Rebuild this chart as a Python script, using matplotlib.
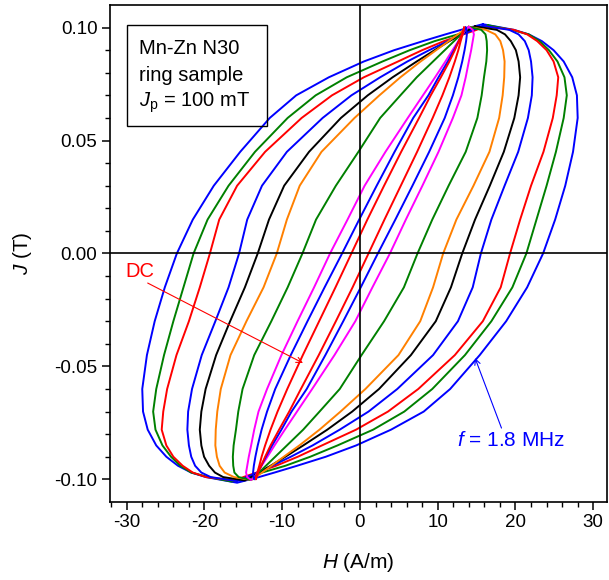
import matplotlib
matplotlib.use("Agg")
import matplotlib.pyplot as plt
from matplotlib.patches import Rectangle
from matplotlib.ticker import MultipleLocator
import numpy as np

plt.rcParams['font.family'] = ['Liberation Sans', 'DejaVu Sans']
plt.rcParams['mathtext.fontset'] = 'custom'
plt.rcParams['mathtext.rm'] = 'Liberation Sans'
plt.rcParams['mathtext.it'] = 'Liberation Sans:italic'
plt.rcParams['axes.unicode_minus'] = False

# J levels (T) between the tips at which the descending branch is read
j_levels = [0.099, 0.097, 0.094, 0.090, 0.085, 0.078, 0.070, 0.060, 0.045, 0.030,
            0.015, 0.000, -0.015, -0.030, -0.045, -0.060, -0.070, -0.078, -0.085,
            -0.090, -0.094, -0.097, -0.099]

# H (A/m) of the descending branch: top tip, the levels above, bottom tip
# outer loop (f = 1.8 MHz) first, DC loop last
h_blue_1 = [15.8, 13.0, 11.0, 8.1, 4.4, 0.5, -4.0, -8.2, -11.6, -15.4, -18.8, -21.5,
            -23.55, -25.1, -26.4, -27.4, -28.0, -27.9, -27.3, -26.2, -24.9, -23.4,
            -21.7, -19.8, -15.8]
h_green_2 = [16.5, 14.6, 12.6, 9.6, 6.4, 2.9, -1.7, -5.7, -9.3, -13.5, -16.9, -19.6,
             -21.4, -22.7, -24.0, -25.2, -26.2, -26.6, -26.3, -25.4, -24.3, -23.1,
             -21.7, -19.5, -16.5]
h_red_3 = [16.0, 15.0, 13.3, 10.8, 8.0, 4.9, 0.5, -3.6, -7.5, -12.2, -15.8, -18.1,
           -19.3, -20.6, -22.0, -23.6, -24.8, -25.3, -25.5, -24.9, -24.0, -22.8,
           -21.5, -19.8, -16.0]
h_blue_4 = [15.8, 14.6, 13.2, 11.3, 8.9, 6.1, 2.6, -1.1, -4.8, -9.4, -12.6, -14.5,
            -15.55, -16.9, -18.6, -20.35, -21.6, -22.1, -22.2, -22.0, -21.7, -21.2,
            -20.4, -19.2, -15.8]
h_black_5 = [14.8, 14.0, 13.0, 11.5, 9.6, 7.3, 4.2, 1.0, -2.45, -6.55, -9.75, -11.7,
             -13.15, -14.8, -16.7, -18.5, -19.85, -20.4, -20.6, -20.4, -20.05, -19.4,
             -18.65, -17.6, -14.8]
h_orange_6 = [14.0, 13.4, 12.6, 11.4, 9.8, 7.8, 5.2, 2.5, -0.7, -4.95, -7.75, -9.4,
              -10.7, -12.4, -14.6, -16.65, -17.9, -18.35, -18.55, -18.6, -18.4, -18.05,
              -17.4, -16.2, -14.0]
h_green_7 = [14.0, 13.6, 13.0, 12.1, 10.9, 9.4, 7.3, 5.2, 2.6, -0.2, -3.1, -5.65,
             -7.4, -9.3, -11.4, -13.6, -15.1, -15.65, -15.95, -16.25, -16.35, -16.3,
             -16.15, -15.6, -14.0]
h_magenta_8 = [14.0, 13.56, 13.2, 12.65, 11.9, 10.99, 9.66, 8.1, 6.15, 3.28, 0.6, -1.6,
               -3.85, -5.9, -8.03, -10.1, -11.95, -13.05, -13.6, -14.0, -14.3, -14.5,
               -14.65, -14.5, -14.0]
h_blue_9 = [13.6, 13.45, 13.15, 12.7, 12.1, 11.3, 10.1, 8.8, 6.85, 4.45, 2.15, -0.1,
            -2.3, -4.55, -6.75, -8.9, -10.9, -11.95, -12.65, -13.15, -13.45, -13.65,
            -13.75, -13.7, -13.6]
h_red_dc = [13.4, 13.3, 13.1, 12.7, 12.2, 11.5, 10.4, 9.1, 7.6, 5.3, 3.1, 0.95,
            -1.1, -3.15, -5.25, -7.35, -9.35, -10.6, -11.5, -12.2, -12.65, -12.95,
            -13.2, -13.35, -13.4]

# J at the tip of each loop
j_peak = [0.1015, 0.101, 0.1005, 0.1008, 0.1005, 0.1003, 0.1003, 0.1003, 0.100, 0.100]

loops = [h_blue_1, h_green_2, h_red_3, h_blue_4, h_black_5,
         h_orange_6, h_green_7, h_magenta_8, h_blue_9, h_red_dc]
loop_colors = ['#0000ff', '#008000', '#ff0000', '#0000ff', '#000000',
               '#ff8000', '#008000', '#ff00ff', '#0000ff', '#ff0000']

x_ticks = [-30, -20, -10, 0, 10, 20, 30]
y_ticks = [-0.10, -0.05, 0.00, 0.05, 0.10]

fig = plt.figure(figsize=(6.09, 5.80), dpi=100)
ax = fig.add_axes([0.1806, 0.135, 0.8165, 0.856])

for h_up, jp, c in zip(loops, j_peak, loop_colors):
    h_up = np.array(h_up)
    j_up = np.array([jp] + j_levels + [-jp])
    # ascending branch is the point-mirror of the descending one
    h_loop = np.concatenate([h_up, -h_up[1:]])
    j_loop = np.concatenate([j_up, -j_up[1:]])
    ax.plot(h_loop, j_loop, color=c, lw=1.4, solid_joinstyle='round')

ax.axhline(0, color='black', lw=1.2, zorder=3)
ax.axvline(0, color='black', lw=1.2, zorder=3)

ax.set_xlim(-32.15, 31.8)
ax.set_ylim(-0.1099, 0.1099)
ax.set_xticks(x_ticks)
ax.set_yticks(y_ticks)
ax.set_yticklabels(['%.2f' % v for v in y_ticks])
ax.xaxis.set_minor_locator(MultipleLocator(2))
ax.yaxis.set_minor_locator(MultipleLocator(0.01))
ax.tick_params(which='major', direction='out', length=6, width=1.1,
               labelsize=13.5, pad=3)
ax.tick_params(which='minor', direction='out', length=3.5, width=1.0)
for sp in ax.spines.values():
    sp.set_linewidth(1.2)

ax.set_xlabel(r'$H$ (A/m)', fontsize=15)
ax.set_ylabel(r'$J$ (T)', fontsize=15)
ax.xaxis.set_label_coords(0.5, -0.1)
ax.yaxis.set_label_coords(-0.152, 0.5)

ax.add_patch(Rectangle((0.034, 0.756), 0.281, 0.204, transform=ax.transAxes,
                       fill=False, edgecolor='black', lw=1.0, zorder=4))
ax.text(0.0575, 0.913, 'Mn-Zn N30', transform=ax.transAxes, fontsize=14.5,
        va='center', ha='left')
ax.text(0.0575, 0.858, 'ring sample', transform=ax.transAxes, fontsize=14.5,
        va='center', ha='left')
ax.text(0.0575, 0.804, r'$J_\mathrm{p}$ = 100 mT', transform=ax.transAxes,
        fontsize=14.5, va='center', ha='left')

ax.text(-28.3, -0.0078, 'DC', color='#ff0000', fontsize=14.5,
        ha='center', va='center')
ax.annotate('', xy=(-7.33, -0.0485), xytext=(-27.3, -0.0131),
            arrowprops=dict(arrowstyle='->', color='#ff0000', lw=0.8,
                            shrinkA=0, shrinkB=0))
ax.text(19.4, -0.083, r'$f$ = 1.8 MHz', color='#0000ff', fontsize=15,
        ha='center', va='center')
ax.annotate('', xy=(14.8, -0.0463), xytext=(18.2, -0.0773),
            arrowprops=dict(arrowstyle='->', color='#0000ff', lw=0.8,
                            shrinkA=0, shrinkB=0))

fig.savefig('out.png', dpi=100)
